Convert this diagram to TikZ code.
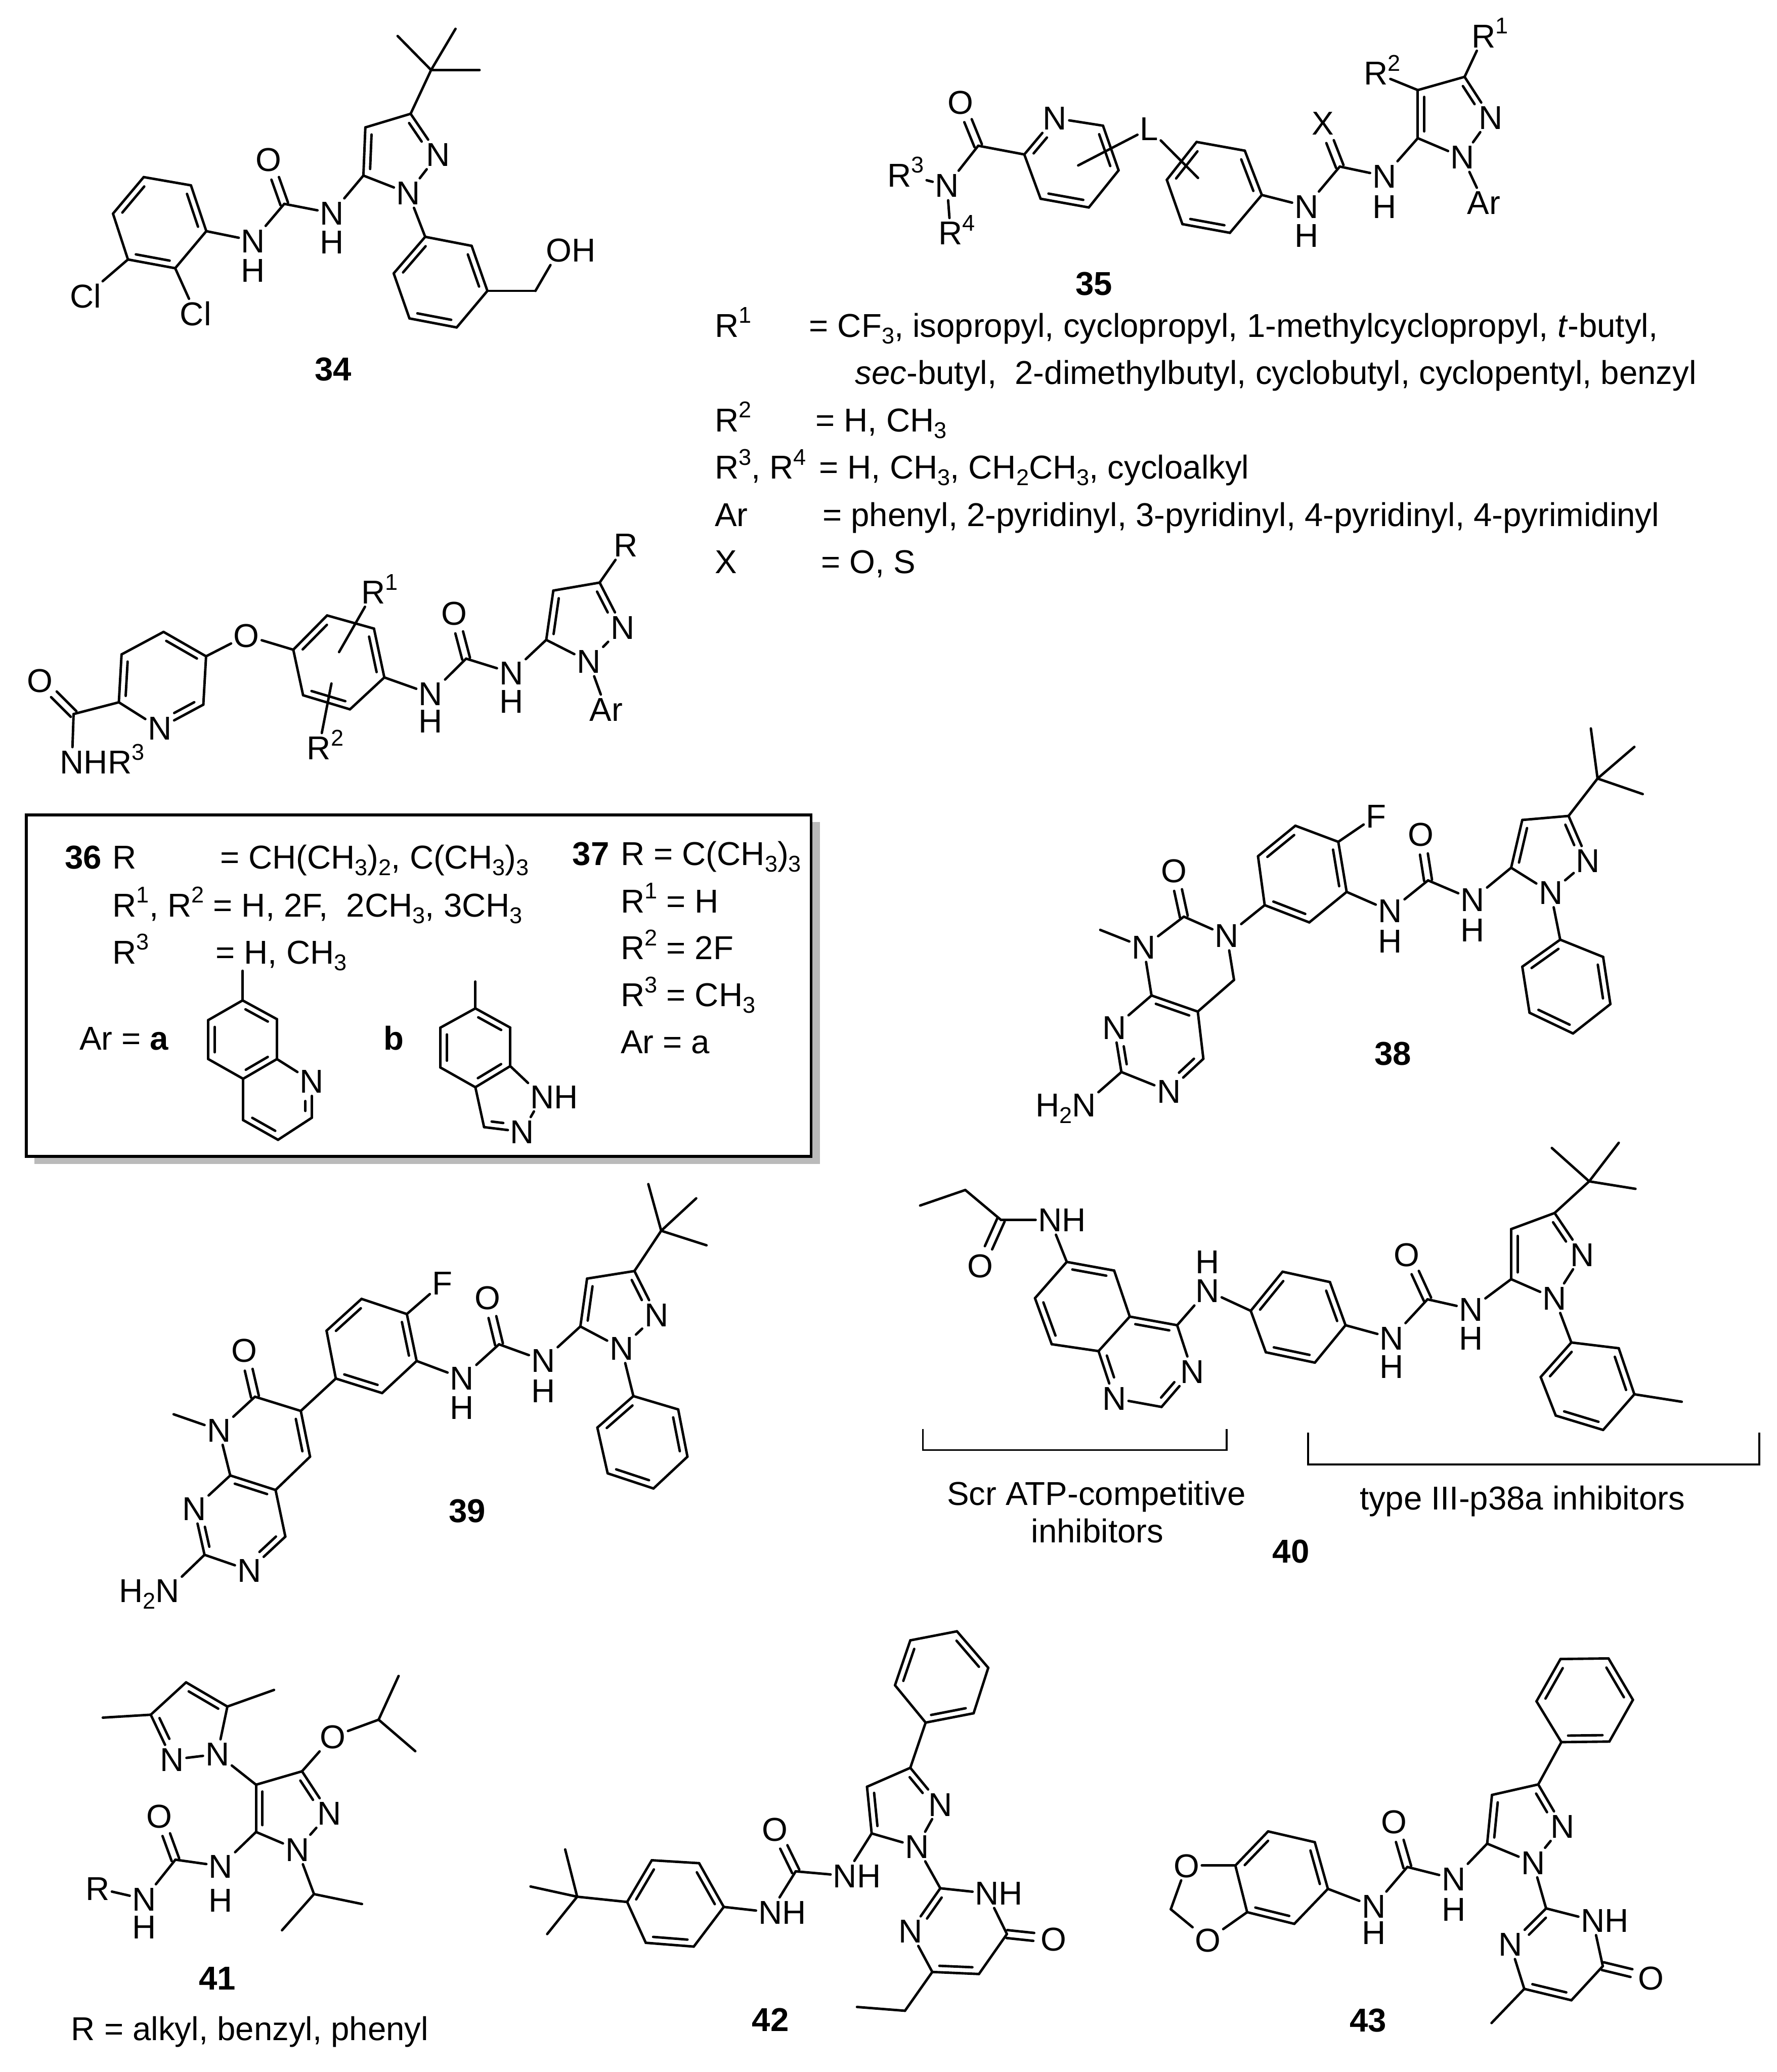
\documentclass[tikz,border=0pt]{standalone}
\usepackage{fontspec}
\setmainfont{Liberation Sans}
\usetikzlibrary{calc}
\newcommand\SP[1]{\raisebox{.42em}{\fontsize{12}{12}\selectfont #1}}
\newcommand\SB[1]{\raisebox{-.2em}{\fontsize{12}{12}\selectfont #1}}
\newcommand\Rs[1]{R\rlap{\SP{#1}}}
\tikzset{
 crop/.style n args={4}{shift={(#1*0.25pt,-#2*0.25pt)},x=#3*0.25pt/1568,y=-#4*0.25pt/1568},
 bond/.style={line width=1.3pt,line cap=round,line join=round,black},
 atom/.style={inner xsep=1.3pt,inner ysep=1.6pt,outer sep=0pt,font=\fontsize{17.4}{20}\selectfont,text height=12.4pt,text depth=0pt,anchor=center},
 aft/.style={atom,anchor=west,inner xsep=0pt,xshift=-1.3pt},
 bef/.style={atom,anchor=east,inner xsep=0pt,xshift=1.3pt},
 lab/.style={inner sep=0pt,font=\fontsize{17.4}{20}\selectfont\bfseries},
 txt/.style={inner sep=0pt,anchor=base west,font=\fontsize{17.4}{20}\selectfont},
 ctxt/.style={inner sep=0pt,anchor=base,font=\fontsize{17.4}{20}\selectfont},
}
\newcommand\C[1]{\foreach \nN/\xX/\yY in {#1}{\coordinate (\nN) at (\xX,\yY);}}
\newcommand\At[1]{\foreach \nN/\xX/\yY/\tT in {#1}{\node[atom] (\nN) at (\xX,\yY) {\tT};}}
\newcommand\B[1]{\foreach \pA/\pB in {#1}{\draw[bond] (\pA) -- (\pB);}}
\newcommand\Db[1]{\foreach \pA/\pB in {#1}{\draw[bond] (\pA) -- (\pB);
  \draw[bond] ($(\pA)!3.6pt!(\pB)!3.4pt!-90:(\pB)$) -- ($(\pB)!3.6pt!(\pA)!3.4pt!90:(\pA)$);}}
\newcommand\Dh[1]{\foreach \pA/\pB/\fA/\fB in {#1}{\draw[bond] (\pA) -- (\pB);
  \draw[bond] ($(\pA)!\fA!(\pB)!3.4pt!-90:(\pB)$) -- ($(\pB)!\fB!(\pA)!3.4pt!90:(\pA)$);}}
\newcommand\Co[1]{\foreach \pA/\pB in {#1}{
  \draw[bond] ($(\pA)!2.1pt!90:(\pB)$) -- ($(\pB)!10.5pt!(\pA)!2.1pt!-90:(\pA)$);
  \draw[bond] ($(\pA)!2.1pt!-90:(\pB)$) -- ($(\pB)!10.5pt!(\pA)!2.1pt!90:(\pA)$);}}
\begin{document}
\begin{tikzpicture}
\fill[white] (0,0) rectangle (935.25pt,-1090.75pt);
\useasboundingbox (0,0) rectangle (935.25pt,-1090.75pt);

%% 34
\begin{scope}[crop={0}{0}{1300}{850},name prefix=A-]
\C{a/365/688,b/485/720,c/524/898,d/445/1042,e/325/1008,f/287/830,u/722/792,p5/923/682,p4/928/495,p3/1043/442,t/1095/272,t1/1010/140,t2/1157/112,t3/1218/272,h1/1080/920,h2/1198/955,h3/1238/1130,h4/1160/1272,h5/1040/1237,h6/1000/1062,ch/1360/1130}
\At{N1/643/935/N,H1/643/1050/H,O/682/620/O,N2/843/828/N,H2/843/940/H,N3/1113/600/N,N4/1037/750/N,Cl1/217/1150/Cl,Cl2/497/1218/Cl,O2/1420/972/O}
\node[aft] (H3) at (O2.east) {H};
\B{a/b,c/d,e/f,c/N1,N1/u,u/N2,N2/p5,p4/p3,N3/N4,N4/p5,p3/t,t/t1,t/t2,t/t3,N4/h1,h1/h2,h3/h4,h5/h6,h3/ch,ch/O2,e/Cl1,d/Cl2}
\Db{f/a,b/c,d/e,p5/p4,h6/h1,h2/h3,h4/h5}
\Dh{p3/N3/3.6pt/10.5pt}
\Co{u/O}
\node[lab] (L) at (846,1435) {34};
\end{scope}

%% 35
\begin{scope}[crop={1400}{0}{2341}{1250},name prefix=B-]
\C{c/442/385,r1/507/408,r3/618/332,r4/640/450,r5/598/548,r6/530/525,e1/583/437,e2/752/470,b1/750/375,b2/818/398,b3/842/515,b4/797/615,b5/730/592,b6/708/475,u/952/440,p5/1062/365,p4/1062/238,p3/1128/203}
\At{O/417/270/O,Na/398/490/N,R3/340/462/R\SP{3},R4/403/615/\Rs{4},Np/550/312/N,L/683/340/L,N1/905/545/N,H1/905/622/H,X/928/325/X,N2/1015/465/N,H2/1015/545/H,N3/1165/310/N,N4/1125/415/N,Ar/1155/535/Ar,R1/1155/95/\Rs{1},R2/1003/193/\Rs{2}}
\B{c/r1,c/Na,Na/R3,Na/R4,Np/r3,r4/r5,r6/r1,L/e1,L/e2,b1/b2,b3/b4,b5/b6,b3/N1,N1/u,u/N2,N2/p5,p4/p3,N3/N4,N4/p5,p3/R1,p4/R2,N4/Ar}
\Db{r3/r4,r5/r6,b6/b1,b2/b3,b4/b5,p5/p4}
\Dh{r1/Np/3.6pt/10.5pt,p3/N3/3.6pt/10.5pt}
\Co{c/O,u/X}
\node[lab] (L35) at (605,750) {35};
\node[txt] (T1a) at (70,890) {R\SP{1}};
\node[txt] (T1b) at (203,890) {= CF\SB{3}, isopropyl, cyclopropyl, 1-methylcyclopropyl, \textit{t}-butyl,};
\node[txt] (T1c) at (268,1015) {\textit{sec}-butyl,\ \ 2-dimethylbutyl, cyclobutyl, cyclopentyl, benzyl};
\node[txt] (T2a) at (70,1140) {R\SP{2}};
\node[txt] (T2b) at (212,1140) {= H, CH\SB{3}};
\node[txt] (T3a) at (70,1265) {R\SP{3}, R\SP{4}};
\node[txt] (T3b) at (217,1265) {= H, CH\SB{3}, CH\SB{2}CH\SB{3}, cycloalkyl};
\node[txt] (T4a) at (70,1390) {Ar};
\node[txt] (T4b) at (222,1390) {= phenyl, 2-pyridinyl, 3-pyridinyl, 4-pyridinyl, 4-pyrimidinyl};
\node[txt] (T5a) at (70,1515) {X};
\node[txt] (T5b) at (220,1515) {= O, S};
\end{scope}

%% 36
\begin{scope}[crop={0}{950}{1800}{1550},name prefix=C-]
\C{bs1/63/790,bs2/1504/1518,bx1/48/775,bx2/1488/1502}
\fill[black!27] (bs1) rectangle (bs2);
\draw[line width=1.5pt,fill=white] (bx1) rectangle (bx2);
\C{c/135/560,r1/218/535,r3/373/540,r4/378/437,r5/300/385,r6/223/433,b1/538/423,b2/600/350,b3/686/378,b4/705/482,b5/642/550,b6/556/520,e1/622/428,e2/608/495,u/855/442,p5/1002/402,p4/1015/297,p3/1100/280}
\At{O1/73/488/O,N5/132/662/N,Np/293/590/N,O2/452/393/O,R1/685/300/\Rs{1},R2/585/632/\Rs{2},N1/790/517/N,H1/790/575/H,O3/833/345/O,N2/938/472/N,H2/938/533/H,N3/1142/375/N,N4/1080/448/N,R/1148/200/R,Ar/1112/550/Ar}
\node[aft] (HR) at (N5.east) {HR\SP{3}};
\B{c/r1,c/N5,r6/r5,r4/r3,Np/r1,r4/O2,O2/b1,b2/b3,b4/b5,b6/b1,R1/e1,R2/e2,b4/N1,N1/u,u/N2,N2/p5,p4/p3,N3/N4,N4/p5,p3/R,N4/Ar}
\Db{r1/r6,r5/r4,b1/b2,b3/b4,b5/b6,p5/p4}
\Dh{r3/Np/3.6pt/10.5pt,p3/N3/3.6pt/10.5pt}
\Co{c/O1,u/O3}
\node[lab,anchor=center] (L36) at (153,865) {36};
\node[txt] (S1a) at (206,890) {R};
\node[txt] (S1b) at (403,890) {= CH(CH\SB{3})\SB{2}, C(CH\SB{3})\SB{3}};
\node[txt] (S2a) at (206,992) {R\SP{1}, R\SP{2} = H, 2F,\ \ 2CH\SB{3}, 3CH\SB{3}};
\node[txt] (S3a) at (206,1092) {R\SP{3}};
\node[txt] (S3b) at (395,1092) {= H, CH\SB{3}};
\node[txt] (S4a) at (145,1275) {Ar = \textbf{a}};
\node[lab,anchor=center] (Sb) at (722,1250) {b};
\node[lab,anchor=center] (L37) at (1084,858) {37};
\node[txt] (Q1) at (1138,882) {R = C(CH\SB{3})\SB{3}};
\node[txt] (Q2) at (1138,983) {R\SP{1} = H};
\node[txt] (Q3) at (1138,1083) {R\SP{2} = 2F};
\node[txt] (Q4) at (1138,1183) {R\SP{3} = CH\SB{3}};
\node[txt] (Q5) at (1138,1283) {Ar = a};
\C{q0/445/1107,q1/445/1170,q2/508/1210,q3/508/1295,q5/572/1420,q6/510/1467,q7/446/1425,q8/446/1337,q9/382/1295,q10/382/1212,i0/872/1130,i1/872/1187,i2/936/1228,i3/936/1310,i4/872/1355,i5/808/1313,i6/808/1228,i8/888/1440}
\At{Nq/572/1342/N,Nh/995/1375/N,Nn/958/1450/N}
\node[aft] (Hh) at (Nh.east) {H};
\B{q0/q1,q2/q3,q3/Nq,q5/q6,q7/q8,q8/q9,q10/q1,i0/i1,i2/i3,i4/i5,i6/i1,i3/Nh,Nh/Nn,i8/i4}
\Db{q1/q2,q3/q8,q9/q10,q6/q7,i1/i2,i3/i4,i5/i6}
\Dh{Nq/q5/10.5pt/3.6pt,Nn/i8/10.5pt/3.6pt}
\end{scope}

%% 38
\begin{scope}[crop={1900}{1500}{1841}{1900},name prefix=D-]
\C{c/505/355,Me/355/378,ch2/595/465,a/530/520,b/447/492,cc/393/625,d/540/602,ph1/650/335,ph2/638/250,ph3/705/197,ph4/782/225,ph5/797/312,ph6/730/365,u/943/292,p5/1092/270,p4/1112/187,p3/1195/180,t/1247/115,t1/1235/28,t2/1313/60,t3/1328/142,s1/1180/395,s2/1257/425,s3/1270/507,s4/1203/558,s5/1125/522,s6/1112/442}
\At{O/487/275/O,Nm/433/408/N,N3/582/388/N,N/380/548/N,N2/478/658/N,Na/326/682/N,F/850/180/F,N5/875/345/N,H5/875/397/H,O2/930/212/O,N6/1023/325/N,H6/1023/378/H,N7/1230/258/N,N8/1163/313/N}
\node[bef] (H2) at (Na.west) {H\SB{2}};
\B{c/Nm,c/N3,N3/ch2,ch2/a,a/d,N2/cc,N/b,b/Nm,Nm/Me,cc/Na,N3/ph1,ph1/ph2,ph3/ph4,ph5/ph6,ph4/F,ph5/N5,N5/u,u/N6,N6/p5,p4/p3,N7/N8,N8/p5,p3/t,t/t1,t/t2,t/t3,N8/s1,s1/s2,s3/s4,s5/s6}
\Db{b/a,ph6/ph1,ph2/ph3,ph4/ph5,p5/p4,s6/s1,s2/s3,s4/s5}
\Dh{d/N2/3.6pt/10.5pt,cc/N/3.6pt/10.5pt,p3/N7/3.6pt/10.5pt}
\Co{c/O,u/O2}
\node[lab] (L38) at (880,593) {38};
\end{scope}

%% 40
\begin{scope}[crop={1900}{1500}{1841}{1900},name prefix=E-]
\C{Me/32/857,e1/113/830,c/177/882,a1/295/955,a2/380/970,a3/408/1050,a4/352/1110,a5/268/1098,a6/238/1018,c4/493/1065,c2/465/1207,b1/625/1040,b2/682/972,b3/767/990,b4/795/1065,b5/740/1130,b6/652/1112,u/942/1020,p5/1092/985,p4/1092/898,p3/1170/870,t/1232/815,t1/1165/757,t2/1285/748,t3/1315/828,ph1/1200/1095,ph2/1285/1105,ph3/1313/1185,ph4/1257/1247,ph5/1172/1222,ph6/1145/1155,Mf/1398/1198}
\At{O/140/962/O,Na/265/882/N,N3/520/1145/N,N1/380/1192/N,N5/547/1005/N,H5/547/955/H,N6/878/1087/N,H6/878/1137/H,O2/905/942/O,N7/1020/1037/N,H7/1020/1087/H,N8/1220/942/N,N9/1170/1018/N}
\node[aft] (Ha) at (Na.east) {H};
\B{Me/e1,e1/c,c/Na,Na/a1,a2/a3,a3/a4,a4/a5,a6/a1,N1/c2,N3/c4,c4/N5,N5/b1,b2/b3,b4/b5,b6/b1,b4/N6,N6/u,u/N7,N7/p5,p4/p3,N8/N9,N9/p5,p3/t,t/t1,t/t2,t/t3,N9/ph1,ph1/ph2,ph3/ph4,ph5/ph6,ph3/Mf}
\Db{a1/a2,a5/a6,a3/c4,b1/b2,b3/b4,b5/b6,ph6/ph1,ph2/ph3,ph4/ph5,p5/p4}
\Dh{N3/c2/10.5pt/3.6pt,N1/a4/10.5pt/3.6pt,p3/N8/3.6pt/10.5pt}
\Co{c/O,u/O2}
\C{k1/37/1245,k2/37/1282,k3/582/1282,k4/582/1245,m1/728/1252,m2/728/1307,m3/1537/1307,m4/1537/1252}
\draw[line width=1pt] (k1) -- (k2) -- (k3) -- (k4);
\draw[line width=1pt] (m1) -- (m2) -- (m3) -- (m4);
\node[ctxt] (Tx1) at (348,1378) {Scr ATP-competitive};
\node[ctxt] (Tx2) at (350,1443) {inhibitors};
\node[ctxt] (Tx3) at (1112,1386) {type III-p38a inhibitors};
\node[lab] (L40) at (697,1458) {40};
\end{scope}

%% 39
\begin{scope}[crop={100}{2450}{1700}{1000},name prefix=F-]
\C{c/403/770,Me/245/828,c3/492/817,c4/510/968,c4a/443/1078,c8a/355/1030,cc/305/1292,d/462/1232,ph1/560/710,ph2/542/552,ph3/610/447,ph4/698/497,ph5/717/652,ph6/650/758,u/877/597,p5/1035/538,p4/1048/380,p3/1140/355,t/1192/222,t1/1167/68,t2/1260/115,t3/1280/270,s1/1138/768,s2/1225/812,s3/1243/968,s4/1177/1073,s5/1088/1023,s6/1068/872}
\At{O/382/617/O,Nm/333/880/N,N/285/1140/N,N2/392/1343/N,Na/233/1410/N,F/767/395/F,N5/805/708/N,H5/805/805/H,O2/855/443/O,N6/963/650/N,H6/963/750/H,N7/1183/500/N,N8/1115/610/N}
\node[bef] (H2) at (Na.west) {H\SB{2}};
\B{c/Nm,c/c3,c4/c4a,c4a/d,N2/cc,N/c8a,c8a/Nm,Nm/Me,cc/Na,c3/ph1,ph1/ph2,ph3/ph4,ph5/ph6,ph4/F,ph5/N5,N5/u,u/N6,N6/p5,p4/p3,N7/N8,N8/p5,p3/t,t/t1,t/t2,t/t3,N8/s1,s1/s2,s3/s4,s5/s6}
\Db{c3/c4,c8a/c4a,ph6/ph1,ph2/ph3,ph4/ph5,p5/p4,s6/s1,s2/s3,s4/s5}
\Dh{d/N2/3.6pt/10.5pt,cc/N/3.6pt/10.5pt,p3/N7/3.6pt/10.5pt}
\Co{c/O,u/O2}
\node[lab] (L39) at (815,1148) {39};
\end{scope}

%% 41
\begin{scope}[crop={100}{3400}{2200}{963},name prefix=G-]
\C{Me1/83/353,a/155/343,b/208/232,cc/270/315,Me2/340/258,p4/313/583,p3/382/537,p5/313/745,ip/497/360,i1/527/210,i2/552/468,jp/400/958,j1/472/992,j2/352/1082,u/192/840}
\At{N1/255/478/N,N2/187/497/N,N3/423/680/N,N4/375/805/N,O/428/418/O,N5/260/862/N,H5/260/978/H,O2/168/690/O,N6/145/975/N,H6/145/1070/H,R/75/938/R}
\B{a/Me1,a/b,cc/Me2,cc/N1,N1/N2,N1/p4,p4/p3,N3/N4,N4/p5,p3/O,O/ip,ip/i1,ip/i2,N4/jp,jp/j1,jp/j2,p5/N5,N5/u,u/N6,N6/R}
\Db{b/cc,p5/p4}
\Dh{N2/a/10.5pt/3.6pt,p3/N3/3.6pt/10.5pt}
\Co{u/O2}
\node[lab] (L41) at (255,1248) {41};
\node[txt] (Rt) at (35,1460) {R = alkyl, benzyl, phenyl};
\end{scope}

%% 42
\begin{scope}[crop={100}{3400}{2200}{963},name prefix=H-]
\C{t/795/967,t1/777/805,t2/725/932,t3/750/1095,r1/870/985,r2/907/842,r3/978/852,r4/1015/1002,r5/970/1138,r6/898/1125,u/1123/880,p5/1237/750,p4/1230/590,p3/1295/525,g1/1318/370,g2/1272/242,g3/1295/88,g4/1365/57,g5/1412/182,g6/1390/338,pc/1340/938,c4/1440/1095,c5/1398/1232,c6/1328/1225,e/1287/1358,Me/1215/1345}
\At{N1/1085/1020/N,O/1092/735/O,N2/1197/895/N,N3/1340/650/N,N4/1305/795/N,Nh/1410/955/N,Nn/1295/1085/N,O2/1510/1112/O}
\node[aft] (H1) at (N1.east) {H};
\node[aft] (H2) at (N2.east) {H};
\node[aft] (H3) at (Nh.east) {H};
\B{t/t1,t/t2,t/t3,t/r1,r2/r3,r4/r5,r6/r1,r4/N1,N1/u,u/N2,N2/p5,p4/p3,N3/N4,N4/p5,p3/g1,g1/g2,g3/g4,g5/g6,N4/pc,pc/Nh,Nh/c4,c4/c5,Nn/c6,c6/e,e/Me}
\Db{r1/r2,r3/r4,r5/r6,p5/p4,g6/g1,g2/g3,g4/g5,c5/c6}
\Dh{p3/N3/3.6pt/10.5pt,Nn/pc/10.5pt/3.6pt}
\Co{u/O,c4/O2}
\node[lab] (L42) at (1085,1388) {42};
\end{scope}

%% 43
\begin{scope}[crop={2300}{3400}{1441}{963},name prefix=I-]
\C{ch/180/1010,a1/328/860,a2/403/743,a3/510/780,a4/540/940,a5/463/1060,a6/355/1020,u/722/865,p5/905/785,p4/916/618,p3/1022/582,g1/1075/437,g2/1018/297,g3/1073/152,g4/1183/150,g5/1239/292,g6/1185/435,pc/1040/1007,c4/1170/1205,c5/1098/1322,c6/990/1283,Me/915/1400}
\At{O1/216/860/O,O2/265/1115/O,N1/645/1000/N,H1/645/1090/H,O/692/710/O,N2/828/905/N,H2/828/1010/H,N3/1078/725/N,N4/1010/850/N,Nh/1147/1048/N,Nn/958/1130/N,O3/1280/1245/O}
\node[aft] (H3) at (Nh.east) {H};
\B{O1/a1,O2/a6,O1/ch,ch/O2,a2/a3,a4/a5,a6/a1,a4/N1,N1/u,u/N2,N2/p5,p4/p3,N3/N4,N4/p5,p3/g1,g1/g2,g3/g4,g5/g6,N4/pc,pc/Nh,Nh/c4,c4/c5,Nn/c6,c6/Me}
\Db{a1/a2,a3/a4,a5/a6,p5/p4,g6/g1,g2/g3,g4/g5,c5/c6}
\Dh{p3/N3/3.6pt/10.5pt,Nn/pc/10.5pt/3.6pt}
\Co{u/O,c4/O3}
\node[lab] (L43) at (632,1392) {43};
\end{scope}
\end{tikzpicture}
\end{document}
